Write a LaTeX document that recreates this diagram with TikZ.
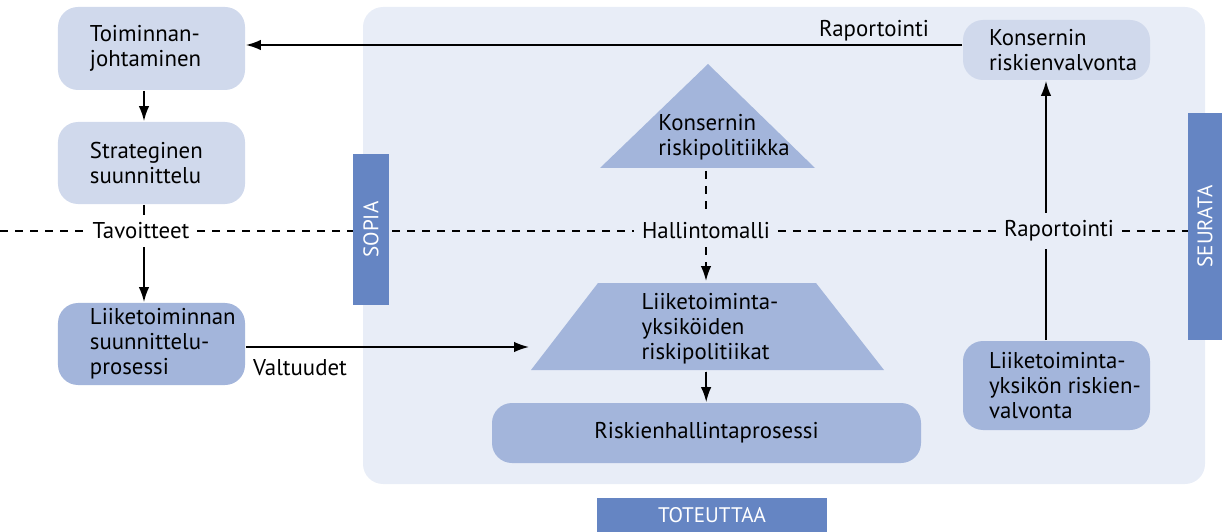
\documentclass[tikz,border=0pt]{standalone}
\usepackage{fontspec}
\setmainfont{PT Sans}
\usetikzlibrary{positioning,arrows.meta,calc}
\definecolor{panelblue}{RGB}{232,237,247}
\definecolor{lightblue}{RGB}{208,217,236}
\definecolor{midblue}{RGB}{163,181,219}
\definecolor{barblue}{RGB}{101,133,195}

\begin{document}
\begin{tikzpicture}[x=0.2mm,y=-0.2mm,
  font=\fontsize{13}{14.2}\selectfont,
  lightbox/.style={fill=lightblue,rounded corners=4mm,inner sep=0pt},
  darkbox/.style={fill=midblue,rounded corners=4mm,inner sep=0pt},
  boxtext/.style={anchor=west,align=left,inner sep=0pt},
  barnode/.style={fill=barblue,text=white,inner sep=0pt,font=\fontsize{12}{13}\selectfont},
  lbl/.style={inner sep=4pt},
  line width=1pt,>={Latex[length=3mm,width=2.1mm]}
]
\useasboundingbox (0,0) rectangle (1222,532);

% the panel
\fill[panelblue,rounded corners=4mm] (363,7) rectangle (1205,484);

% the planning column
\node[lightbox,minimum width=37.4mm,minimum height=16.6mm,
  label={[boxtext,xshift=6.4mm]west:{Toiminnan-\\johtaminen}}] (toim) at (151.5,48.5) {};
\node[lightbox,minimum width=37.4mm,minimum height=16.4mm,
  label={[boxtext,xshift=6.4mm]west:{Strateginen\\suunnittelu}}] (strat) at (151.5,163) {};
\node[darkbox,minimum width=37.4mm,minimum height=16.4mm,
  label={[boxtext,xshift=6.4mm]west:{Liiketoiminnan\\suunnittelu-\\prosessi}}] (liik) at (151.5,344) {};
\coordinate (lc) at (144,0);

% the policies
\fill[midblue] (600,168) -- (708,64) -- (815,168) -- cycle;
\node[align=left,inner sep=0pt] (kpol) at (724,137) {Konsernin\\riskipolitiikka};
\fill[midblue] (598,283) -- (816,283) -- (884,370) -- (531,370) -- cycle;
\node[align=left,inner sep=0pt] (lpol) at (710,329) {Liiketoiminta-\\yksiköiden\\riskipolitiikat};
\coordinate (kpolbase) at (706,171);
\coordinate (lpoltop) at (706,281);
\coordinate (lpolbot) at (706,372);
\coordinate (lpolleft) at (529,347);
\node[darkbox,minimum width=85.8mm,minimum height=12mm] (rhp) at (706.5,433) {Riskienhallintaprosessi};

% the monitoring
\node[lightbox,minimum width=37.4mm,minimum height=12mm,
  label={[boxtext,xshift=5.2mm]west:{Konsernin\\riskienvalvonta}}] (kval) at (1056.5,50) {};
\node[darkbox,minimum width=37.4mm,minimum height=17.8mm,
  label={[boxtext,xshift=5.2mm]west:{Liiketoiminta-\\yksikön riskien-\\valvonta}}] (lval) at (1056.5,385.5) {};
\coordinate (rv) at (1046,0);
\coordinate (rap1row) at (0,45);

% the labels
\node[lbl] (tav) at (141,231) {Tavoitteet};
\node[lbl] (hal) at (706,231) {Hallintomalli};
\node[lbl] (rap2) at (1059,231) {Raportointi};
\node[lbl] (rap1) at (874,31) {Raportointi};
\node[lbl] (valt) at (300,368) {Valtuudet};

% the dashed line
\draw[dash pattern=on 1.6mm off 1.4mm] (0,231) -- (tav.west);
\draw[dash pattern=on 1.6mm off 1.4mm] (tav.east) -- (hal.west);
\draw[dash pattern=on 1.6mm off 1.4mm] (hal.east) -- (rap2.west);
\draw[dash pattern=on 1.6mm off 1.4mm] (rap2.east) -- (1222,231);

% the edges
\draw[->] (kval.west |- rap1row) -- (toim.east |- rap1row);
\draw[->] (toim.south -| lc) -- (strat.north -| lc);
\draw (strat.south -| lc) -- (tav.north -| lc);
\draw[->] (tav.south -| lc) -- (liik.north -| lc);
\draw[->] (liik.east |- lpolleft) -- (lpolleft);
\draw[dash pattern=on 1.6mm off 1.4mm] (kpolbase) -- (hal.north -| kpolbase);
\draw[dash pattern=on 1.6mm off 1.4mm,->] (hal.south -| kpolbase) -- (lpoltop);
\draw[->] (lpolbot) -- (rhp);
\draw (lval.north -| rv) -- (rap2.south -| rv);
\draw[->] (rap2.north -| rv) -- (kval.south -| rv);

% the bars
\node[barnode,rotate=90,minimum width=30.2mm,minimum height=7.2mm] (sopia) at (371,229.5) {SOPIA};
\node[barnode,rotate=90,minimum width=45.4mm,minimum height=6.8mm] (seurata) at (1205,226.5) {SEURATA};
\node[barnode,minimum width=46mm,minimum height=6.8mm] (toteuttaa) at (712,515) {TOTEUTTAA};
\end{tikzpicture}
\end{document}
